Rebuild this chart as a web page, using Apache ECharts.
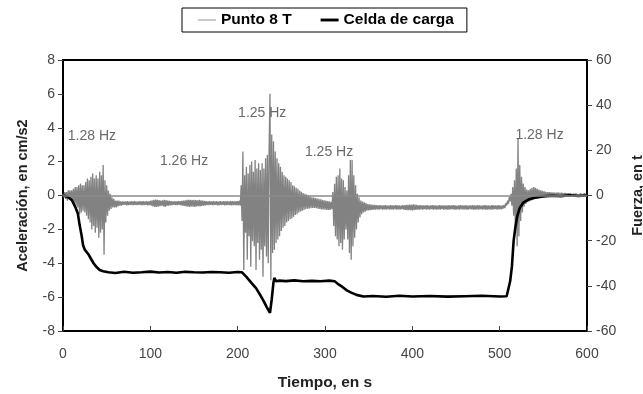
<!DOCTYPE html>
<html>
<head>
<meta charset="utf-8">
<script src="https://cdn.jsdelivr.net/npm/echarts@6/dist/echarts.min.js"></script>
<style>
html,body{margin:0;padding:0;background:#fff;width:100%;height:100%;overflow:hidden;}
#chart{width:100%;height:100%;}
</style>
</head>
<body>
<div id="chart"></div>
<script>
// ---- Data ----
const xTicks = [0, 100, 200, 300, 400, 500, 600];
const accelTicks = [-8, -6, -4, -2, 0, 2, 4, 6, 8];
const forceTicks = [-60, -40, -20, 0, 20, 40, 60];
const sampleStep = 1; // s between acceleration samples

// Punto 8 T (cm/s2), one value per second, t = 0..600
const accel000 = [
  0.1,-0.1,0.2,-0.2,0.2,-0.3,0.3,-0.2,0.3,-0.3,
  0.3,-0.4,0.4,-0.5,0.5,-0.6,0.5,-0.7,0.6,-1.1,
  0.7,-1.0,0.6,-0.9,0.6,-1.0,0.8,-1.2,1.0,-1.4,
  0.9,-1.6,1.1,-2.0,1.3,-1.8,1.0,-2.2,1.2,-1.9,
  1.0,-2.5,1.4,-2.2,1.2,-2.0,1.8,-3.5,0.9,-1.6,
  0.6,-1.2,0.3,-0.9,0.1,-0.8,-0.1,-0.7,-0.2,-0.7,
  -0.3,-0.7,-0.3,-0.65,-0.3,-0.6,-0.35,-0.6,-0.35,-0.55,
  -0.35,-0.55,-0.35,-0.58,-0.33,-0.56,-0.36,-0.55,-0.34,-0.57,
  -0.35,-0.56,-0.34,-0.55,-0.36,-0.57,-0.35,-0.55,-0.33,-0.56,
  -0.35,-0.57,-0.34,-0.56,-0.35,-0.55,-0.33,-0.58,-0.35,-0.56
];
const accel100 = [
  -0.32,-0.6,-0.28,-0.64,-0.25,-0.68,-0.24,-0.67,-0.26,-0.66,
  -0.27,-0.63,-0.3,-0.6,-0.28,-0.65,-0.25,-0.68,-0.27,-0.62,
  -0.3,-0.6,-0.32,-0.58,-0.34,-0.56,-0.35,-0.55,-0.34,-0.57,
  -0.35,-0.56,-0.34,-0.55,-0.33,-0.58,-0.32,-0.6,-0.3,-0.62,
  -0.28,-0.64,-0.26,-0.66,-0.25,-0.67,-0.26,-0.65,-0.27,-0.66,
  -0.25,-0.68,-0.27,-0.64,-0.28,-0.63,-0.26,-0.65,-0.29,-0.62,
  -0.3,-0.6,-0.32,-0.58,-0.34,-0.57,-0.35,-0.56,-0.34,-0.55,
  -0.35,-0.56,-0.33,-0.57,-0.35,-0.55,-0.34,-0.58,-0.36,-0.56,
  -0.34,-0.57,-0.35,-0.55,-0.33,-0.58,-0.35,-0.56,-0.34,-0.57,
  -0.35,-0.56,-0.34,-0.58,-0.33,-0.57,-0.35,-0.56,-0.34,-0.58
];
const accel200 = [
  -0.33,-0.57,-0.3,-0.6,0.6,-1.5,2.6,-4.4,1.2,-2.2,
  1.7,-3.8,1.3,-2.4,1.8,-4.2,2.0,-2.7,1.4,-3.0,
  2.1,-4.4,1.6,-2.8,1.9,-3.8,1.5,-3.2,1.9,-4.8,
  1.6,-3.0,2.2,-3.6,2.4,-4.0,2.8,6.0,-5.0,3.6,
  -3.4,3.2,-3.2,2.6,-2.8,2.2,-2.6,1.9,-2.4,1.7,
  -2.1,1.4,-1.9,1.2,-1.8,1.1,-1.6,1.0,-1.5,0.9,
  -1.4,0.8,-1.35,0.6,-1.25,0.55,-1.15,0.45,-1.1,0.4,
  -1.0,0.3,-0.95,0.22,-0.9,0.15,-0.85,0.1,-0.8,0.05,
  -0.78,0.0,-0.76,-0.05,-0.75,-0.1,-0.74,-0.12,-0.73,-0.15,
  -0.75,-0.18,-0.78,-0.2,-0.8,-0.22,-0.82,-0.25,-0.83,-0.28
];
const accel300 = [
  -0.84,-0.3,-0.85,-0.33,-0.85,-0.35,-0.85,-0.37,-0.8,0.2,
  -1.8,0.7,-2.4,1.1,-2.6,1.2,-3.0,1.6,-2.8,1.0,
  -3.2,0.9,-2.6,0.5,-2.0,0.3,-2.6,1.2,-3.4,2.1,
  -3.8,2.1,-3.0,1.2,-2.5,0.6,-2.0,0.1,-1.6,-0.1,
  -1.3,-0.3,-1.1,-0.35,-1.0,-0.4,-0.95,-0.45,-0.9,-0.5,
  -0.88,-0.52,-0.86,-0.54,-0.85,-0.55,-0.84,-0.56,-0.83,-0.57,
  -0.82,-0.58,-0.83,-0.57,-0.81,-0.59,-0.84,-0.58,-0.82,-0.57,
  -0.83,-0.58,-0.81,-0.6,-0.84,-0.57,-0.82,-0.59,-0.83,-0.58,
  -0.81,-0.57,-0.84,-0.59,-0.82,-0.58,-0.83,-0.6,-0.81,-0.57,
  -0.84,-0.58,-0.85,-0.56,-0.86,-0.55,-0.87,-0.54,-0.86,-0.55
];
const accel400 = [
  -0.88,-0.52,-0.87,-0.54,-0.85,-0.56,-0.84,-0.58,-0.83,-0.57,
  -0.82,-0.58,-0.83,-0.59,-0.81,-0.58,-0.84,-0.57,-0.82,-0.6,
  -0.83,-0.58,-0.81,-0.57,-0.84,-0.59,-0.82,-0.58,-0.83,-0.6,
  -0.82,-0.57,-0.84,-0.58,-0.81,-0.59,-0.83,-0.58,-0.82,-0.6,
  -0.84,-0.57,-0.83,-0.58,-0.82,-0.59,-0.81,-0.57,-0.84,-0.58,
  -0.83,-0.6,-0.82,-0.58,-0.84,-0.57,-0.81,-0.59,-0.83,-0.58,
  -0.82,-0.57,-0.84,-0.6,-0.83,-0.58,-0.81,-0.59,-0.82,-0.57,
  -0.84,-0.58,-0.83,-0.59,-0.82,-0.57,-0.84,-0.58,-0.81,-0.6,
  -0.83,-0.58,-0.82,-0.57,-0.84,-0.59,-0.83,-0.58,-0.82,-0.6,
  -0.84,-0.57,-0.83,-0.58,-0.81,-0.59,-0.82,-0.58,-0.84,-0.57
];
const accel500 = [
  -0.8,-0.6,-0.82,-0.58,-0.78,-0.55,-0.75,-0.45,-0.6,-0.3,
  -0.5,-0.1,-0.35,0.1,-0.6,0.5,-1.2,0.9,-2.0,1.6,
  -3.0,3.4,-2.4,1.8,-1.5,1.1,-1.0,0.7,-0.66,0.5,
  -0.5,0.35,-0.4,0.3,-0.35,0.4,-0.3,0.45,-0.25,0.5,
  -0.22,0.45,-0.2,0.4,-0.18,0.35,-0.15,0.3,-0.12,0.28,
  -0.1,0.25,-0.08,0.22,-0.06,0.2,-0.05,0.2,-0.04,0.18,
  -0.03,0.18,-0.02,0.17,-0.03,0.16,-0.02,0.18,-0.01,0.15,
  0.0,0.16,-0.02,0.14,0.0,0.15,0.01,0.13,0.0,0.14,
  0.0,0.12,0.01,0.13,0.0,0.12,-0.01,0.11,0.0,0.12,
  0.0,0.1,0.01,0.12,0.0,0.1,0.02,0.11,0.0,0.1,
  0.02
];

// Celda de carga (t)
const forceTime = [0,5,10,14,17,19,21,23,25,27,29,32,35,38,42,46,52,60,70,80,
  90,100,110,120,130,140,150,160,170,180,190,200,205,210,216,221,225,229,233,237,
  239,241,242,244,248,255,265,275,285,295,305,311,316,320,325,330,336,344,355,370,
  385,400,420,440,460,480,500,508,510,512,514,516,518,520,523,527,533,540,550,560,
  570,580,590,600];
const forceValue = [0,-0.5,-2,-5,-8,-13,-17,-22,-24,-25,-26,-28,-30,-31.5,-33,-33.5,-34,-34.3,-33.8,-34.2,
  -34,-33.7,-34.1,-33.9,-34.2,-33.8,-34,-34.1,-33.9,-34,-34.2,-33.9,-34,-36,-38.8,-41,-43.5,-46.2,-49.2,-52,
  -46,-38.5,-36.5,-38,-37.7,-37.9,-37.6,-38,-37.8,-38,-37.7,-38,-39.5,-40.5,-42,-43,-44,-44.7,-44.5,-44.8,
  -44.4,-44.7,-44.5,-44.8,-44.6,-44.4,-44.7,-44.6,-44,-38,-31.5,-20,-14,-9.4,-5.5,-3.2,-1.8,-1.0,-0.4,-0.1,
  -0.3,0.1,-0.2,0];

// Frequency annotations
const noteText = ['1.28 Hz', '1.26 Hz', '1.25 Hz', '1.25 Hz', '1.28 Hz'];
const noteTime = [5.5, 111, 200.5, 277, 518];
const noteAccel = [3.5, 2.0, 4.85, 2.55, 3.55];

// ---- Build ----
const accel = [].concat(accel000, accel100, accel200, accel300, accel400, accel500);
const accelData = accel.map((v, i) => [i * sampleStep, v]);
const forceData = forceTime.map((t, i) => [t, forceValue[i]]);
const noteData = noteText.map((s, i) => [noteTime[i], noteAccel[i], s]);

const FONT = '"Liberation Sans", Arial, sans-serif';
const lineIconThin = 'path://M0,0L0,0M0,10L0,10M0,4.2L20,4.2L20,5.8L0,5.8Z';
const lineIconThick = 'path://M0,0L0,0M0,10L0,10M0,3.4L20,3.4L20,6.6L0,6.6Z';
const chart = echarts.init(document.getElementById('chart'), null, {renderer: 'canvas'});
chart.setOption({
  animation: false,
  backgroundColor: '#fff',
  textStyle: {fontFamily: FONT},
  grid: {left: 63, right: 56, top: 60, bottom: 63, containLabel: false, outerBoundsMode: 'none',
         show: true, borderColor: '#000', borderWidth: 2, backgroundColor: 'transparent'},
  legend: {
    left: 182, top: 8,
    data: [
      {name: 'Punto 8 T', icon: lineIconThin, itemStyle: {color: '#b4b4b4', borderWidth: 0}},
      {name: 'Celda de carga', icon: lineIconThick, itemStyle: {color: '#000', borderWidth: 0}}
    ],
    borderColor: '#000', borderWidth: 1, padding: [4, 13, 4, 16],
    itemGap: 29, itemWidth: 18, itemHeight: 10,
    textStyle: {fontFamily: FONT, fontWeight: 'bold', fontSize: 15.5, color: '#000'}
  },
  xAxis: {
    type: 'value', min: xTicks[0], max: xTicks[xTicks.length - 1], interval: 100,
    name: 'Tiempo, en s', nameLocation: 'middle', nameGap: 44,
    nameTextStyle: {fontFamily: FONT, fontWeight: 'bold', fontSize: 15.5, color: '#222'},
    axisLine: {onZero: false, lineStyle: {color: '#000', width: 2}},
    axisTick: {inside: true, length: 5, lineStyle: {color: '#444'}},
    axisLabel: {margin: 16, fontSize: 14, color: '#444', fontFamily: FONT},
    splitLine: {show: false}
  },
  yAxis: [{
    type: 'value', min: accelTicks[0], max: accelTicks[accelTicks.length - 1], interval: 2,
    name: 'Aceleración, en cm/s2', nameLocation: 'middle', nameGap: 33, nameRotate: 90,
    nameTextStyle: {fontFamily: FONT, fontWeight: 'bold', fontSize: 14.5, color: '#222'},
    axisLine: {show: true, onZero: false, lineStyle: {color: '#000', width: 2}},
    axisTick: {show: true, length: 5, lineStyle: {color: '#444'}},
    axisLabel: {margin: 8, fontSize: 14, color: '#444', fontFamily: FONT},
    splitLine: {show: false}
  }, {
    type: 'value', position: 'right', min: forceTicks[0], max: forceTicks[forceTicks.length - 1], interval: 20,
    name: 'Fuerza, en t', nameLocation: 'middle', nameGap: 43, nameRotate: 90,
    nameTextStyle: {fontFamily: FONT, fontWeight: 'bold', fontSize: 14.5, color: '#222'},
    axisLine: {show: true, onZero: false, lineStyle: {color: '#000', width: 2}},
    axisTick: {show: true, length: 5, lineStyle: {color: '#444'}},
    axisLabel: {margin: 9, fontSize: 14, color: '#444', fontFamily: FONT},
    splitLine: {show: false}
  }],
  series: [{
    name: 'Punto 8 T', type: 'line', yAxisIndex: 0, data: accelData,
    symbol: 'none', sampling: null, z: 2,
    lineStyle: {color: '#828282', width: 1.3},
    itemStyle: {color: '#b4b4b4'},
    markLine: {
      silent: true, symbol: 'none', label: {show: false},
      lineStyle: {color: '#8a8a8a', width: 1.5, type: 'solid'},
      data: [{yAxis: 0}]
    }
  }, {
    name: 'Celda de carga', type: 'line', yAxisIndex: 1, data: forceData,
    symbol: 'none', z: 3,
    lineStyle: {color: '#000', width: 2.6},
    itemStyle: {color: '#000'}
  }, {
    name: 'notes', type: 'scatter', yAxisIndex: 0, data: noteData,
    symbolSize: 0, z: 4, silent: true,
    label: {
      show: true, position: 'right', distance: 0,
      formatter: p => p.data[2],
      fontFamily: FONT, fontSize: 14, color: '#444'
    }
  }]
});
</script>
</body>
</html>
